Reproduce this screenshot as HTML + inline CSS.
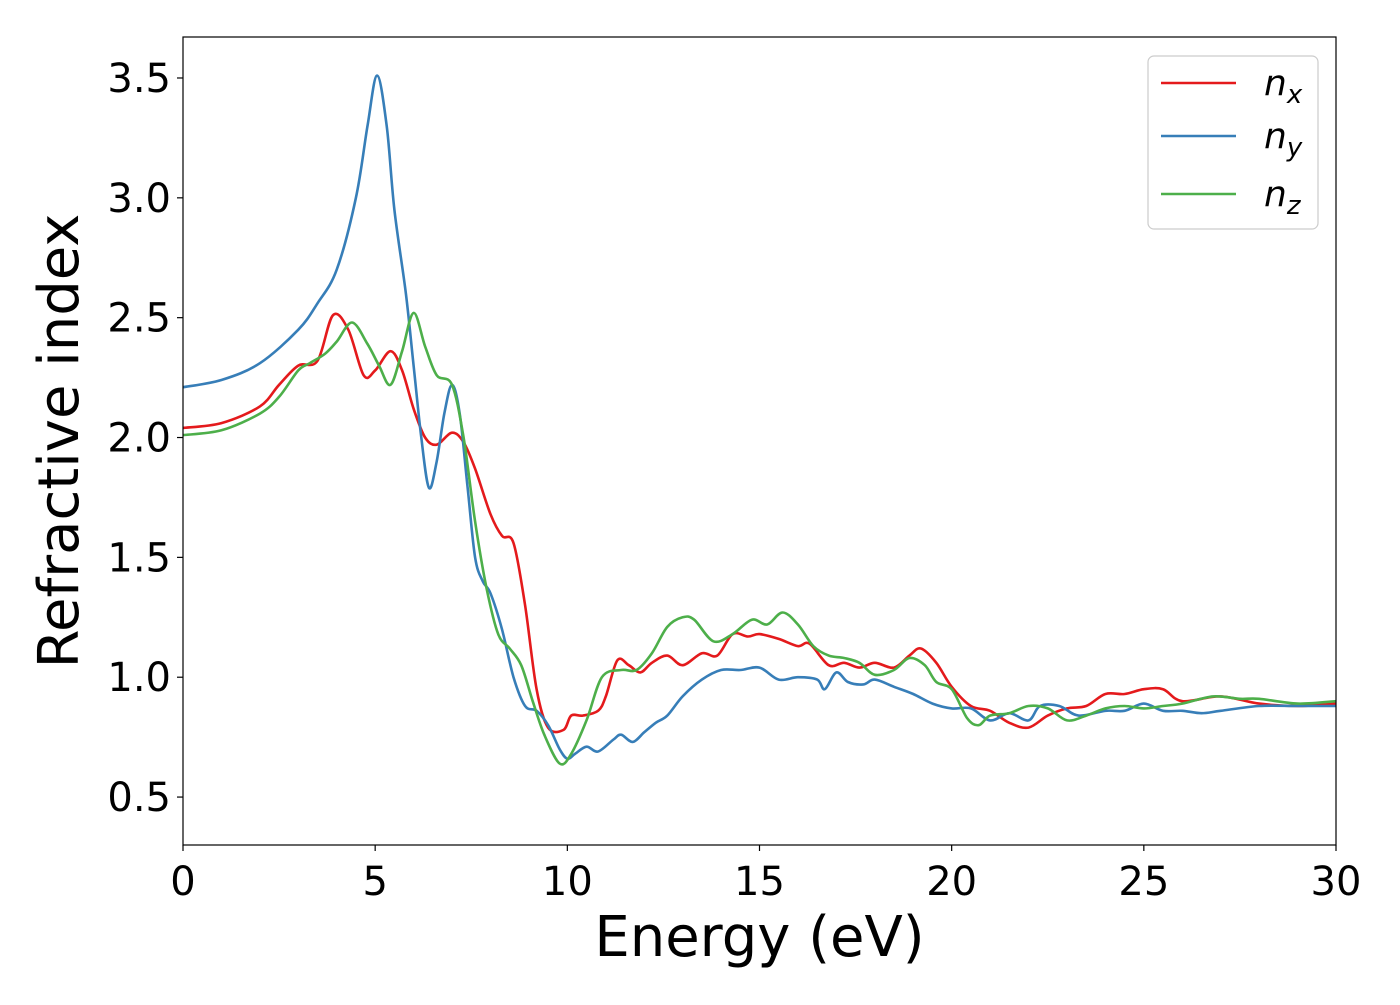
<!DOCTYPE html>
<html><head><meta charset="utf-8"><style>
html,body{margin:0;padding:0;background:#fff;}
svg text{font-family:"DejaVu Sans","Liberation Sans",sans-serif;fill:#000;}
</style></head><body>
<svg id="chart" width="1400" height="1000" viewBox="0 0 1400 1000" xmlns="http://www.w3.org/2000/svg">
<g id="plot"></g>
</svg>
<script>
const xTicks=[0,5,10,15,20,25,30];
const yTicks=[0.5,1.0,1.5,2.0,2.5,3.0,3.5];
const yTickLabels=["0.5","1.0","1.5","2.0","2.5","3.0","3.5"];
const nxE=[0,1,2,2.5,3,3.5,3.9,4.3,4.7,5.0,5.4,5.7,6.0,6.3,6.6,7.0,7.3,7.6,8.0,8.3,8.6,8.9,9.2,9.5,9.9,10.1,10.4,10.8,11.0,11.3,11.6,11.9,12.2,12.6,13,13.5,13.9,14.3,14.7,15,15.5,16,16.3,16.8,17.2,17.6,18,18.5,18.9,19.2,19.6,20,20.5,21,21.5,22,22.5,23,23.5,24,24.5,25,25.5,26,27,28,29,30];
const nxV=[2.04,2.06,2.13,2.22,2.30,2.32,2.51,2.45,2.26,2.28,2.36,2.28,2.12,2.0,1.97,2.02,1.98,1.87,1.68,1.59,1.56,1.3,0.95,0.79,0.78,0.84,0.84,0.86,0.92,1.07,1.05,1.02,1.06,1.09,1.05,1.1,1.09,1.18,1.17,1.18,1.16,1.13,1.14,1.05,1.06,1.04,1.06,1.04,1.09,1.12,1.06,0.96,0.88,0.86,0.81,0.79,0.84,0.87,0.88,0.93,0.93,0.95,0.95,0.9,0.92,0.89,0.88,0.89];
const nyE=[0,1,2,3,3.5,4,4.5,4.8,5.05,5.3,5.5,5.8,6.0,6.2,6.4,6.6,6.8,7.0,7.2,7.4,7.6,7.8,8.0,8.3,8.6,8.9,9.2,9.5,9.8,10,10.2,10.5,10.8,11.2,11.4,11.7,12,12.3,12.6,13,13.5,14,14.5,15,15.5,16,16.5,16.7,17,17.3,17.7,18,18.5,19,19.5,20,20.5,21,21.5,22,22.3,22.8,23.3,24,24.5,25,25.5,26,26.5,27,28,29,30];
const nyV=[2.21,2.24,2.31,2.45,2.56,2.70,3.0,3.3,3.51,3.3,2.95,2.6,2.3,2.0,1.79,1.9,2.1,2.22,2.1,1.8,1.5,1.40,1.35,1.2,1.0,0.88,0.86,0.8,0.7,0.66,0.68,0.71,0.69,0.74,0.76,0.73,0.77,0.81,0.84,0.92,0.99,1.03,1.03,1.04,0.99,1.0,0.99,0.95,1.02,0.98,0.97,0.99,0.96,0.93,0.89,0.87,0.87,0.82,0.85,0.82,0.88,0.88,0.84,0.86,0.86,0.89,0.86,0.86,0.85,0.86,0.88,0.88,0.88];
const nzE=[0,1,2,2.5,3,3.3,3.7,4.0,4.4,4.8,5.1,5.4,5.7,6.0,6.3,6.6,7.0,7.3,7.6,7.9,8.2,8.5,8.8,9.1,9.4,9.8,10.1,10.5,10.9,11.4,11.8,12.2,12.6,13.0,13.3,13.8,14.3,14.8,15.2,15.6,16,16.4,16.8,17.2,17.6,18,18.5,18.9,19.3,19.6,20,20.4,20.7,21,21.5,22,22.5,23,23.5,24,24.5,25,25.5,26,26.8,27.5,28,29,30];
const nzV=[2.01,2.03,2.1,2.17,2.28,2.31,2.35,2.4,2.48,2.39,2.3,2.22,2.36,2.52,2.38,2.26,2.22,2.0,1.65,1.37,1.18,1.12,1.05,0.9,0.76,0.64,0.68,0.82,1.0,1.03,1.03,1.1,1.21,1.25,1.24,1.15,1.18,1.24,1.22,1.27,1.22,1.13,1.09,1.08,1.06,1.01,1.03,1.08,1.05,0.98,0.95,0.83,0.8,0.84,0.85,0.88,0.87,0.82,0.84,0.87,0.88,0.87,0.88,0.89,0.92,0.91,0.91,0.89,0.9];

const L=183,R=1336,T=37,B=845,XMIN=0,XMAX=30,YMIN=0.3,YMAX=3.671;
function xs(v){return L+(v-XMIN)/(XMAX-XMIN)*(R-L);}
function ys(v){return B-(v-YMIN)/(YMAX-YMIN)*(B-T);}
const NS="http://www.w3.org/2000/svg";
const g=document.getElementById('plot');
function mk(tag,attrs,parent){const e=document.createElementNS(NS,tag);for(const k in attrs)e.setAttribute(k,attrs[k]);(parent||g).appendChild(e);return e;}
function pathD(E,V){
  const p=E.map((e,i)=>[xs(e),ys(V[i])]);
  let d="M"+p[0][0].toFixed(1)+","+p[0][1].toFixed(1);
  for(let i=0;i<p.length-1;i++){
    const p0=p[Math.max(0,i-1)],p1=p[i],p2=p[i+1],p3=p[Math.min(p.length-1,i+2)];
    const c1x=p1[0]+(p2[0]-p0[0])/6,c1y=p1[1]+(p2[1]-p0[1])/6;
    const c2x=p2[0]-(p3[0]-p1[0])/6,c2y=p2[1]-(p3[1]-p1[1])/6;
    d+=" C"+c1x.toFixed(1)+","+c1y.toFixed(1)+" "+c2x.toFixed(1)+","+c2y.toFixed(1)+" "+p2[0].toFixed(1)+","+p2[1].toFixed(1);
  }
  return d;
}
const clip=mk('clipPath',{id:'pc'});mk('rect',{x:L,y:T,width:R-L,height:B-T},clip);
const series=[[nxE,nxV,'#e41a1c','line-nx'],[nyE,nyV,'#377eb8','line-ny'],[nzE,nzV,'#4daf4a','line-nz']];
series.forEach(s=>{
  const p=mk('path',{d:pathD(s[0],s[1]),fill:'none',stroke:s[2],'stroke-width':2.6,'clip-path':'url(#pc)'});
  
  
});
const frame=mk('rect',{x:L,y:T,width:R-L,height:B-T,fill:'none',stroke:'#000','stroke-width':1.2});


xTicks.forEach(t=>{
  const ln=mk('line',{x1:xs(t),x2:xs(t),y1:B,y2:B+6,stroke:'#000','stroke-width':1.2});
  
  
  const tx=mk('text',{x:xs(t),y:B+50,'text-anchor':'middle','font-size':40});
  tx.textContent=String(t);
  
  
});
yTicks.forEach((t,i)=>{
  const ln=mk('line',{x1:L-6,x2:L,y1:ys(t),y2:ys(t),stroke:'#000','stroke-width':1.2});
  
  
  const tx=mk('text',{x:L-12,y:ys(t)+14,'text-anchor':'end','font-size':40});
  tx.textContent=yTickLabels[i];
  
  
});
const xl=mk('text',{x:(L+R)/2,y:956,'text-anchor':'middle','font-size':56});
xl.textContent='Energy (eV)';


const yl=mk('text',{x:0,y:0,'text-anchor':'middle','font-size':56,transform:'translate(78,441) rotate(-90)'});
yl.textContent='Refractive index';


const lg=mk('g',{});


mk('rect',{x:1148,y:56,width:170,height:173,rx:6,fill:'#fff',stroke:'#ccc','stroke-width':1.2},lg);
const names=[['x','legend-entry-nx'],['y','legend-entry-ny'],['z','legend-entry-nz']];
const ly=[83,136,194];
series.forEach((s,i)=>{
  const eg=mk('g',{},lg);
  
  
  mk('line',{x1:1161,x2:1236,y1:ly[i],y2:ly[i],stroke:s[2],'stroke-width':2.6},eg);
  const t=mk('text',{x:1264,y:ly[i]+12,'font-size':36,'font-style':'italic'},eg);
  t.textContent='n';
  const sub=mk('tspan',{'font-size':26,dy:8},t);
  sub.textContent=names[i][0];
});
</script>
</body></html>
